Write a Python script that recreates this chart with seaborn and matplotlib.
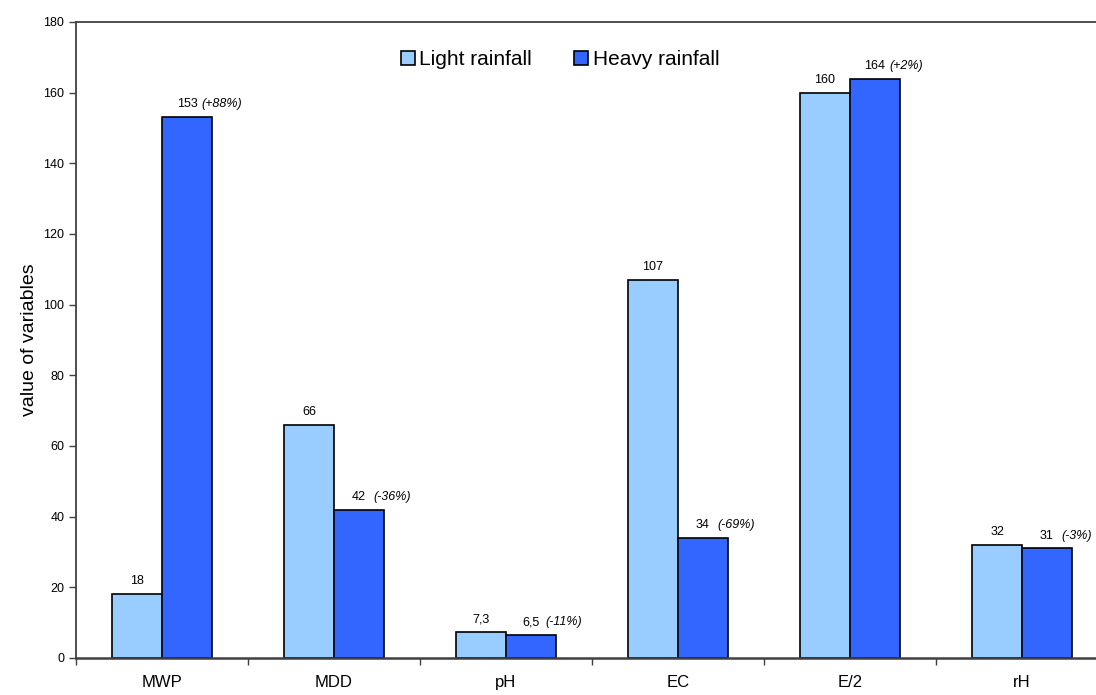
import pandas as pd
import numpy as np
import matplotlib
matplotlib.use('Agg')
import matplotlib.pyplot as plt
import seaborn as sns

variables = ['MWP', 'MDD', 'pH', 'EC', 'E/2', 'rH']
light = [18, 66, 7.3, 107, 160, 32]
heavy = [153, 42, 6.5, 34, 164, 31]
light_labels = ['18', '66', '7,3', '107', '160', '32']
heavy_labels = ['153', '42', '6,5', '34', '164', '31']
change_labels = ['(+88%)', '(-36%)', '(-11%)', '(-69%)', '(+2%)', '(-3%)']
series = ['Light rainfall', 'Heavy rainfall']
colors = ['#99CCFF', '#3366FF']

data = pd.DataFrame({
    'variable': variables * 2,
    'value': light + heavy,
    'rainfall': [series[0]] * len(variables) + [series[1]] * len(variables),
})

sns.set_style('white')
plt.rcParams['font.family'] = ['Liberation Sans', 'DejaVu Sans']
plt.rcParams['text.color'] = 'black'
plt.rcParams['axes.labelcolor'] = 'black'
plt.rcParams['xtick.color'] = 'black'
plt.rcParams['ytick.color'] = 'black'

fig = plt.figure(figsize=(10.96, 6.95), dpi=100)
ax = fig.add_axes([76 / 1096, 1 - 658 / 695, 1032 / 1096, 636 / 695])

sns.barplot(data=data, x='variable', y='value', hue='rainfall',
            palette=colors, width=0.58, edgecolor='black', linewidth=1.2,
            saturation=1, ax=ax)

# value labels
for bar, txt in zip(ax.containers[0], light_labels):
    ax.annotate(txt, (bar.get_x() + bar.get_width() / 2, bar.get_height()),
                xytext=(0, 5), textcoords='offset points',
                ha='center', va='bottom', fontsize=9)
for bar, txt, pct in zip(ax.containers[1], heavy_labels, change_labels):
    cx = bar.get_x() + bar.get_width() / 2
    ax.annotate(txt, (cx, bar.get_height()), xytext=(0, 5),
                textcoords='offset points', ha='center', va='bottom', fontsize=9)
    ax.annotate(pct, (cx, bar.get_height()), xytext=(10.5, 5),
                textcoords='offset points', ha='left', va='bottom',
                fontsize=9, style='italic')

ax.set_xlim(-0.5, 5.5)
ax.set_ylim(0, 180)
ax.set_yticks(np.arange(0, 181, 20))
ax.tick_params(axis='y', left=True, length=5, width=1, labelsize=9, color='#404040')
ax.set_xticks(np.arange(-0.5, 5.6, 1), minor=True)
ax.tick_params(axis='x', which='major', length=0, labelsize=12, pad=12)
ax.tick_params(axis='x', which='minor', bottom=True, length=5, width=1, color='#404040')
ax.set_xlabel('')
ax.set_ylabel('value of variables', fontsize=14, labelpad=4)

for side in ['left', 'bottom', 'top']:
    ax.spines[side].set_visible(True)
    ax.spines[side].set_color('#404040')
    ax.spines[side].set_linewidth(1.3)
ax.spines['bottom'].set_linewidth(1.8)
ax.spines['right'].set_visible(False)

ax.legend(loc='upper center', bbox_to_anchor=(0.469, 0.985), ncol=2,
          frameon=False, fontsize=15, handlelength=0.7, handleheight=0.7,
          handletextpad=0.2, columnspacing=2.0, title=None)

fig.savefig('out.png', dpi=100)
